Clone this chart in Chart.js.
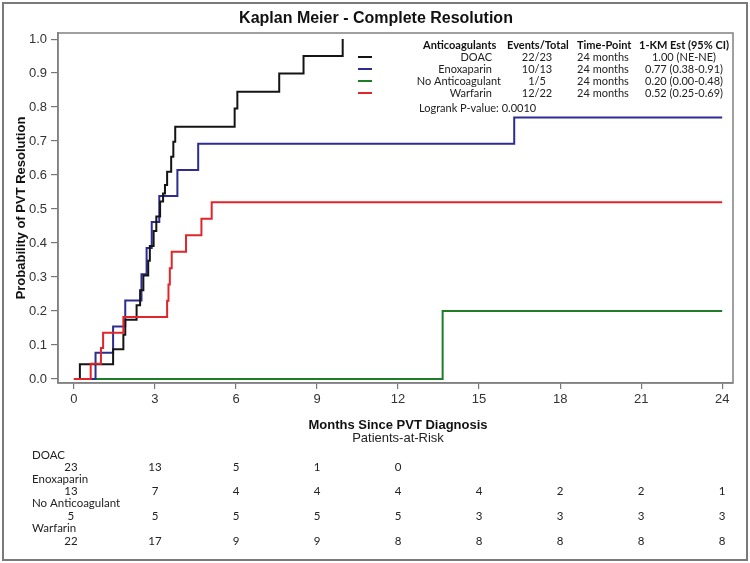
<!DOCTYPE html>
<html><head><meta charset="utf-8">
<script src="https://cdn.jsdelivr.net/npm/chart.js@4.4.1/dist/chart.umd.min.js"></script>
<style>html,body{margin:0;padding:0;background:#fff}canvas{display:block}</style>
</head><body>
<canvas id="c" width="750" height="563"></canvas>
<script>
// ---- data ----
const xTicks = [0, 3, 6, 9, 12, 15, 18, 21, 24];
const yTicks = [0, 0.1, 0.2, 0.3, 0.4, 0.5, 0.6, 0.7, 0.8, 0.9, 1.0];

const doacT = [0, 0.22, 1.45, 1.83, 1.9, 2.32, 2.45, 2.57, 2.75, 2.81, 2.95, 3.05, 3.19, 3.3, 3.37, 3.45, 3.6, 3.68, 3.75, 5.95, 6.05, 7.6, 8.5, 9.95];
const doacS = [0, 0.043, 0.087, 0.13, 0.174, 0.217, 0.261, 0.304, 0.348, 0.391, 0.435, 0.478, 0.522, 0.546, 0.571, 0.61, 0.654, 0.698, 0.742, 0.796, 0.845, 0.899, 0.95, 1.0];

const enoxT = [0, 0.8, 1.45, 1.9, 2.5, 2.69, 2.88, 3.16, 3.83, 4.6, 16.3, 24];
const enoxS = [0, 0.077, 0.154, 0.231, 0.308, 0.385, 0.462, 0.538, 0.615, 0.692, 0.769, 0.769];

const noneT = [0, 13.65, 24];
const noneS = [0, 0.2, 0.2];

const warfT = [0, 0.62, 1.0, 1.08, 1.83, 3.45, 3.5, 3.55, 3.62, 4.15, 4.72, 5.1, 24];
const warfS = [0, 0.045, 0.091, 0.136, 0.182, 0.23, 0.278, 0.326, 0.374, 0.423, 0.471, 0.52, 0.52];

const groups = ["DOAC", "Enoxaparin", "No Anticoagulant", "Warfarin"];
const eventsTotal = ["22/23", "10/13", "1/5", "12/22"];
const timePoint = ["24 months", "24 months", "24 months", "24 months"];
const kmEst = ["1.00 (NE-NE)", "0.77 (0.38-0.91)", "0.20 (0.00-0.48)", "0.52 (0.25-0.69)"];
const logrank = "Logrank P-value: 0.0010";

const riskDOAC = [23, 13, 5, 1, 0];
const riskEnox = [13, 7, 4, 4, 4, 4, 2, 2, 1];
const riskNone = [5, 5, 5, 5, 5, 3, 3, 3, 3];
const riskWarf = [22, 17, 9, 9, 8, 8, 8, 8, 8];

const colors = ["#141414", "#2d2d8f", "#1f7d2a", "#e0262a"];

function pts(t, s) { return t.map((v, i) => ({ x: v, y: s[i] })); }

const AX = "'Liberation Sans', Arial, sans-serif";
const LF = "Lato, 'Open Sans', sans-serif";

const overlay = {
  id: 'overlay',
  beforeDraw(chart) {
    const ctx = chart.ctx;
    ctx.save();
    ctx.fillStyle = '#fff';
    ctx.fillRect(0, 0, chart.width, chart.height);
    ctx.restore();
  },
  afterDraw(chart) {
    const ctx = chart.ctx;
    const a = chart.chartArea;
    const xs = chart.scales.x;
    ctx.save();
    // outer frame
    ctx.strokeStyle = '#7a7a7a';
    ctx.lineWidth = 2;
    ctx.strokeRect(3, 3, 744, 557);
    // plot frame
    ctx.strokeStyle = '#808080';
    ctx.lineWidth = 1.5;
    ctx.strokeRect(a.left, a.top, a.right - a.left, a.bottom - a.top);
    // title
    ctx.fillStyle = '#111';
    ctx.textAlign = 'center';
    ctx.textBaseline = 'middle';
    ctx.font = "bold 16px " + AX;
    ctx.fillText("Kaplan Meier - Complete Resolution", 376, 19);
    // axis titles
    ctx.font = "bold 13px " + AX;
    ctx.fillText("Months Since PVT Diagnosis", 398, 425);
    ctx.font = "13px " + AX;
    ctx.fillStyle = '#222';
    ctx.fillText("Patients-at-Risk", 398, 438);
    ctx.save();
    ctx.translate(21, 208);
    ctx.rotate(-Math.PI / 2);
    ctx.font = "bold 13px " + AX;
    ctx.fillStyle = '#111';
    ctx.fillText("Probability of PVT Resolution", 0, 0);
    ctx.restore();
    // legend table
    ctx.fillStyle = '#111';
    ctx.font = "bold 11px " + LF;
    ctx.textAlign = 'left';
    ctx.fillText("Anticoagulants", 423, 45);
    ctx.fillText("Events/Total", 507, 45);
    ctx.fillText("Time-Point", 577, 45);
    ctx.fillText("1-KM Est (95% CI)", 639, 45);
    ctx.font = "11px " + LF;
    ctx.fillStyle = '#222';
    const rowY = [57, 69, 81, 93];
    for (let i = 0; i < groups.length; i++) {
      ctx.textAlign = 'right';
      ctx.fillText(groups[i], i === 2 ? 501 : 492, rowY[i]);
      ctx.textAlign = 'center';
      ctx.fillText(eventsTotal[i], 537, rowY[i]);
      ctx.fillText(timePoint[i], 603, rowY[i]);
      ctx.fillText(kmEst[i], 684, rowY[i]);
      ctx.strokeStyle = colors[i];
      ctx.lineWidth = 2;
      ctx.beginPath();
      ctx.moveTo(358, rowY[i]);
      ctx.lineTo(372, rowY[i]);
      ctx.stroke();
    }
    ctx.textAlign = 'left';
    ctx.fillText(logrank, 419, 108);
    // at-risk table
    const labY = [455, 479, 503, 528];
    const numY = [467, 491, 516, 541];
    const risks = [riskDOAC, riskEnox, riskNone, riskWarf];
    ctx.font = "11.5px " + LF;
    for (let i = 0; i < groups.length; i++) {
      ctx.textAlign = 'left';
      ctx.fillStyle = '#222';
      ctx.fillText(groups[i], 32, labY[i]);
      ctx.textAlign = 'center';
      risks[i].forEach((v, j) => {
        const px = xs.getPixelForValue(xTicks[j]) - (j === 0 ? 3 : 0);
        ctx.fillText(String(v), px, numY[i]);
      });
    }
    ctx.restore();
  }
};

const mk = (label, t, s, c, order) => ({
  label, data: pts(t, s), borderColor: c, backgroundColor: c,
  borderWidth: 2, pointRadius: 0, stepped: 'before', fill: false, order
});

new Chart(document.getElementById('c'), {
  type: 'line',
  data: {
    datasets: [
      mk(groups[0], doacT, doacS, colors[0], 1),
      mk(groups[1], enoxT, enoxS, colors[1], 2),
      mk(groups[2], noneT, noneS, colors[2], 3),
      mk(groups[3], warfT, warfS, colors[3], 0)
    ]
  },
  options: {
    responsive: false,
    animation: false,
    devicePixelRatio: 1,
    layout: { padding: { top: 33, right: 17, left: 0, bottom: 150 } },
    plugins: { legend: { display: false }, tooltip: { enabled: false }, title: { display: false } },
    scales: {
      x: {
        type: 'linear', min: -0.59, max: 24.4,
        afterBuildTicks: s => { s.ticks = xTicks.map(v => ({ value: v })); },
        afterFit: s => { s.height = 30; },
        grid: { drawOnChartArea: false, drawTicks: true, tickLength: 6, color: '#777', lineWidth: 1.2 },
        border: { display: true, color: '#808080', width: 1.5 },
        ticks: { padding: 3, color: '#333', font: { family: AX, size: 13 }, maxRotation: 0, autoSkip: false,
          callback: v => String(v) }
      },
      y: {
        type: 'linear', min: -0.012, max: 1.018,
        afterBuildTicks: s => { s.ticks = yTicks.map(v => ({ value: v })); },
        afterFit: s => { s.width = 58; },
        grid: { drawOnChartArea: false, drawTicks: true, tickLength: 7, color: '#777', lineWidth: 1.2 },
        border: { display: true, color: '#808080', width: 1.5 },
        ticks: { padding: 4, color: '#333', font: { family: AX, size: 13 }, autoSkip: false,
          callback: v => v.toFixed(1) }
      }
    }
  },
  plugins: [overlay]
});
</script>
</body></html>
